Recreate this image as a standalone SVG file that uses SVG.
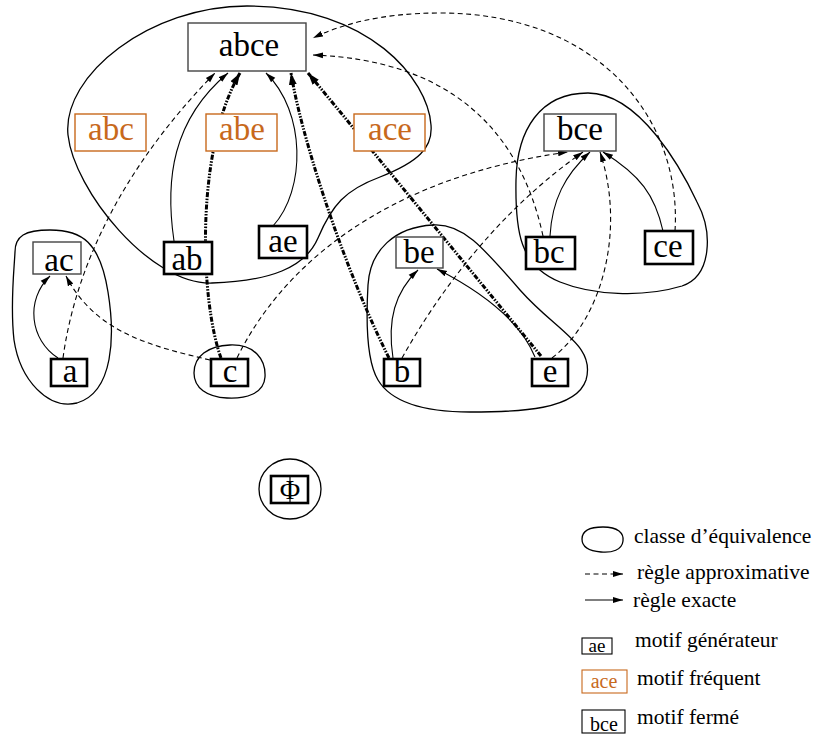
<svg xmlns="http://www.w3.org/2000/svg" width="822" height="736" viewBox="0 0 822 736">
<style>
  .cls { fill: none; stroke: #000; stroke-width: 1.3; }
  .gen { fill: #fff; stroke: #000; stroke-width: 2.6; }
  .clo { fill: #fff; stroke: #444; stroke-width: 1.4; }
  .frq { fill: #fff; stroke: #c8691c; stroke-width: 1.4; }
  .t { font-family: "Liberation Serif", "Times New Roman", serif; font-size: 33px; fill: #000; text-anchor: middle; }
  .to { font-family: "Liberation Serif", "Times New Roman", serif; font-size: 33px; fill: #c8691c; text-anchor: middle; }
  .lg { font-family: "Liberation Serif", "Times New Roman", serif; font-size: 21.5px; fill: #000; }
  .ex { fill: none; stroke: #000; stroke-width: 1.1; marker-end: url(#ah); }
  .ap { fill: none; stroke: #000; stroke-width: 1.1; stroke-dasharray: 5 3.5; marker-end: url(#ah); }
  .th { fill: none; stroke: #000; stroke-width: 3; stroke-dasharray: 5 1.5 1.5 1.5 1.5 1.5; marker-end: url(#ahb); }
</style>
<defs>
  <marker id="ah" markerUnits="userSpaceOnUse" markerWidth="12" markerHeight="10" refX="10" refY="4" orient="auto">
    <path d="M0,1 L10,4 L0,7 Z" fill="#000"/>
  </marker>
  <marker id="ahb" markerUnits="userSpaceOnUse" markerWidth="14" markerHeight="12" refX="12" refY="5" orient="auto">
    <path d="M0,1 L12,5 L0,9 Z" fill="#000"/>
  </marker>
</defs>
<rect width="822" height="736" fill="#fff"/>

<!-- equivalence classes -->
<g id="classes">
  <path id="class-abce" class="cls" d="M 247,6 C 150,6 62,75 68,135 C 74,190 150,285 212,283 C 270,281 305,268 318,238 C 332,205 345,190 380,177 C 418,162 433,148 431,125 C 428,80 370,6 247,6 Z"/>
  <path id="class-ac" class="cls" d="M 15,252 C 15,236 25,230 50,230 C 82,230 100,242 108,292 C 115,335 114,392 77,403 C 48,410 20,380 14,340 C 10,305 14,272 15,252 Z"/>
  <path id="class-c" class="cls" d="M 230,345 C 255,344 266,360 265,377 C 264,394 245,399 227,398 C 207,397 194,388 194,373 C 194,356 208,346 230,345 Z"/>
  <path id="class-be" class="cls" d="M 433,225 C 462,223 482,246 520,290 C 557,332 596,345 586,380 C 576,410 520,412 470,412 C 420,412 390,400 378,380 C 366,360 366,320 368,285 C 370,250 395,227 433,225 Z"/>
  <path id="class-bce" class="cls" d="M 588,93 C 540,93 517,130 516,180 C 515,232 520,266 560,282 C 592,295 642,298 682,286 C 712,276 713,232 697,202 C 682,170 640,93 588,93 Z"/>
  <ellipse id="class-empty" class="cls" cx="290" cy="489" rx="31" ry="30"/>
</g>

<!-- connectors -->
<g id="connectors">
  <path id="e-ab-abce" class="ex" d="M 174,241 C 165,180 172,120 228,73"/>
  <path id="e-ae-abce" class="ex" d="M 273,226 C 306,190 306,112 266,73"/>
  <path id="e-a-ac" class="ex" d="M 58,358 C 30,340 25,300 50,276"/>
  <path id="e-b-be" class="ex" d="M 393,358 C 387,320 395,292 418,270"/>
  <path id="e-e-be" class="ex" d="M 535,357 C 520,320 482,292 437,269"/>
  <path id="e-bc-bce" class="ex" d="M 550,236 C 552,200 565,175 590,152"/>
  <path id="e-ce-bce" class="ex" d="M 663,231 C 655,195 640,175 603,152"/>

  <path id="d-a-abce" class="ap" d="M 63,358 C 75,270 120,170 215,73"/>
  <path id="d-c-ac" class="ap" d="M 210,360 C 150,346 95,332 66,276"/>
  <path id="d-c-bce" class="ap" d="M 237,358 C 280,270 380,178 568,152"/>
  <path id="d-b-bce" class="ap" d="M 402,358 C 440,290 500,210 583,152"/>
  <path id="d-e-bce" class="ap" d="M 552,358 C 602,320 626,230 600,152"/>
  <path id="d-bc-abce" class="ap" d="M 543,236 C 520,130 450,60 313,55"/>
  <path id="d-ce-abce" class="ap" d="M 675,231 C 682,120 600,13 440,13 C 380,13 340,25 313,38"/>

  <path id="x-c-abce" class="th" d="M 221,358 C 200,300 195,150 240,73"/>
  <path id="x-b-abce" class="th" d="M 389,358 C 340,260 300,130 291,73"/>
  <path id="x-e-abce" class="th" d="M 541,356 C 470,270 380,160 308,73"/>
</g>

<!-- nodes -->
<g id="n-abce"><rect class="clo" x="188" y="23" width="118" height="48"/><text class="t" x="249" y="56">abce</text></g>
<g id="n-abc"><rect class="frq" x="75" y="114" width="71" height="37"/><text class="to" x="111" y="140">abc</text></g>
<g id="n-abe"><rect class="frq" x="206" y="114" width="71" height="37"/><text class="to" x="242" y="140">abe</text></g>
<g id="n-ace"><rect class="frq" x="354" y="114" width="71" height="37"/><text class="to" x="390" y="140">ace</text></g>
<g id="n-bce"><rect class="clo" x="544" y="114" width="72" height="37"/><text class="t" x="580" y="140">bce</text></g>
<g id="n-ac"><rect class="clo" x="33" y="242" width="48" height="32"/><text class="t" x="59" y="271">ac</text></g>
<g id="n-ab"><rect class="gen" x="164" y="242" width="48" height="32"/><text class="t" x="187" y="270">ab</text></g>
<g id="n-ae"><rect class="gen" x="259" y="226" width="48" height="32"/><text class="t" x="283" y="252">ae</text></g>
<g id="n-be"><rect class="clo" x="396" y="237" width="47" height="31"/><text class="t" x="419" y="263">be</text></g>
<g id="n-bc"><rect class="gen" x="526" y="237" width="49" height="32"/><text class="t" x="549" y="263">bc</text></g>
<g id="n-ce"><rect class="gen" x="645" y="231" width="48" height="33"/><text class="t" x="668" y="257">ce</text></g>
<g id="n-a"><rect class="gen" x="51" y="359" width="36" height="27"/><text class="t" x="70" y="382">a</text></g>
<g id="n-c"><rect class="gen" x="211" y="359" width="37" height="27"/><text class="t" x="230" y="382">c</text></g>
<g id="n-b"><rect class="gen" x="384" y="359" width="36" height="27"/><text class="t" x="402" y="382">b</text></g>
<g id="n-e"><rect class="gen" x="532" y="359" width="36" height="27"/><text class="t" x="550" y="382">e</text></g>
<g id="n-empty"><rect class="gen" x="271" y="476" width="37" height="27"/><line x1="290" y1="477" x2="290" y2="502" stroke="#000" stroke-width="1.2"/><text class="t" x="290" y="499" style="font-size:28px">Φ</text></g>

<!-- legend -->
<g id="legend">
  <path class="cls" d="M 603,527 C 618,527 624,533 623,541 C 622,550 612,553 601,552 C 588,551 582,546 582,539 C 582,531 590,527 603,527 Z"/>
  <text class="lg" x="634" y="543">classe d’équivalence</text>
  <line class="ap" x1="585" y1="574" x2="623" y2="574"/>
  <text class="lg" x="637" y="579">règle approximative</text>
  <line class="ex" x1="585" y1="600" x2="623" y2="600"/>
  <text class="lg" x="633" y="607">règle exacte</text>
  <rect x="582" y="638" width="30" height="16" fill="#fff" stroke="#000" stroke-width="1.1"/>
  <text x="597" y="652" style="font-family:'Liberation Serif','Times New Roman',serif;font-size:19px;text-anchor:middle">ae</text>
  <text class="lg" x="635" y="647">motif générateur</text>
  <rect x="582" y="670" width="45" height="23" fill="#fff" stroke="#c8691c" stroke-width="1.1"/>
  <text x="604" y="688" style="font-family:'Liberation Serif','Times New Roman',serif;font-size:20px;text-anchor:middle;fill:#c8691c">ace</text>
  <text class="lg" x="637" y="685">motif fréquent</text>
  <rect x="582" y="710" width="43" height="23" fill="#fff" stroke="#000" stroke-width="1.1"/>
  <text x="604" y="731" style="font-family:'Liberation Serif','Times New Roman',serif;font-size:20px;text-anchor:middle">bce</text>
  <text class="lg" x="637" y="724">motif fermé</text>
</g>
</svg>
